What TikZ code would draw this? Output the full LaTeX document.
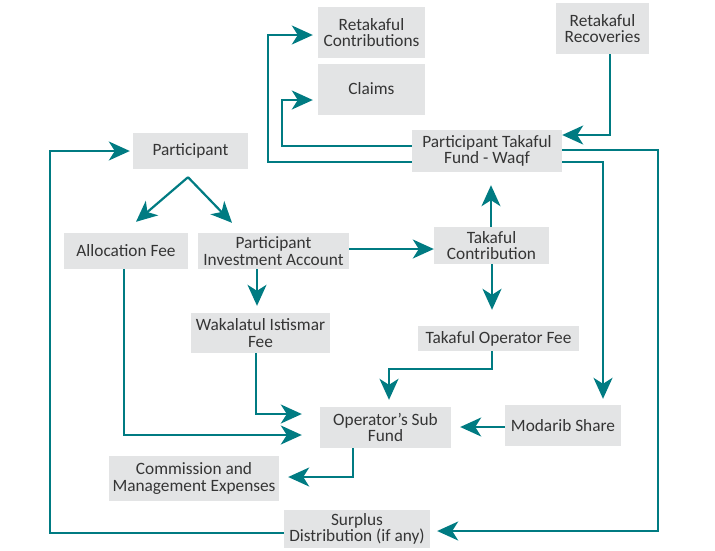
\documentclass[tikz,border=0pt]{standalone}
\usepackage{fontspec}
\setmainfont{Carlito}
\usetikzlibrary{arrows.meta,calc}
\definecolor{tealline}{HTML}{007B82}
\definecolor{boxgray}{HTML}{E3E4E5}
\definecolor{txtgray}{HTML}{353535}
\begin{document}
\begin{tikzpicture}[x=1pt,y=-1pt,
  box/.style={fill=boxgray, text=txtgray, align=center, inner sep=0pt,
              font=\fontsize{17.3}{16.5}\selectfont},
  flow/.style={draw=tealline, line width=2.2pt, line join=miter,
              -{Stealth[length=21pt,width=19pt,inset=6pt]}}]
\useasboundingbox (0,0) rectangle (715,550);

% boxes
\node[box, minimum width=107pt, minimum height=51pt] (rc)  at (371.5,32.5) {Retakaful\\Contributions};
\node[box, minimum width=107pt, minimum height=51pt] (cl)  at (371.5,89) {Claims};
\node[box, minimum width=93pt,  minimum height=51pt] (rr)  at (602.5,28.5) {Retakaful\\Recoveries};
\node[box, minimum width=150pt, minimum height=42pt] (ptf) at (487,151) {Participant Takaful\\Fund - Waqf};
\node[box, minimum width=115pt, minimum height=36pt] (par) at (190.5,151) {Participant};
\node[box, minimum width=124pt, minimum height=36pt] (af)  at (126,251) {Allocation Fee};
\node[box, minimum width=151pt, minimum height=36pt] (pia) at (273.5,251) {Participant\\Investment Account};
\node[box, minimum width=115pt, minimum height=37pt] (tc)  at (491.5,245.5) {Takaful\\Contribution};
\node[box, minimum width=161pt, minimum height=25pt] (tof) at (498.5,338.5) {Takaful Operator Fee};
\node[box, minimum width=139pt, minimum height=40pt] (wak) at (260.5,333) {Wakalatul Istismar\\Fee};
\node[box, minimum width=131pt, minimum height=41pt] (osf) at (385.5,427.5) {Operator’s Sub\\Fund};
\node[box, minimum width=170pt, minimum height=45pt] (com) at (194,478.5) {Commission and\\Management Expenses};
\node[box, minimum width=146pt, minimum height=38pt] (sd)  at (357,529) {Surplus\\Distribution (if any)};
\node[box, minimum width=116pt, minimum height=41pt] (ms)  at (563,425.5) {Modarib Share};

\coordinate (split) at ($(par.south)+(-2.5,8)$);
\coordinate (afin)  at ($(af.north)+(10,-11)$);
\coordinate (piain) at ($(pia.north)+(-41.5,-10)$);

% connectors
\draw[flow, shorten >=5pt] (ptf.west |- 0,162) -| (268,35) -- (rc.west |- 0,35);
\draw[flow, shorten >=5pt] (ptf.west |- 0,146) -| (282,100) -- (cl.west |- 0,100);
\draw[flow] (610,0 |- rr.south) |- (ptf.east |- 0,135);
\draw[flow, shorten >=7pt] (ptf.east |- 0,150) -| (658,531) -- (sd.east |- 0,531);
\draw[flow, shorten >=6pt] (ptf.east |- 0,162) -| (603,0 |- ms.north);
\draw[flow, shorten >=3pt] (sd.west |- 0,533) -| (50,151) -- (par.west);
\draw[flow] (split) -- (afin);
\draw[flow] (split) -- (piain);
\draw[flow] (pia.east |- 0,249) -- (tc.west |- 0,249);
\draw[flow, shorten >=7pt] (257,0 |- pia.south) -- (257,0 |- wak.north);
\draw[flow, shorten >=13pt] (491,0 |- tc.north) -- (491,0 |- ptf.south);
\draw[flow, shorten >=16pt] (492,0 |- tc.south) -- (492,0 |- tof.north);
\draw[flow, shorten >=7pt] (492,0 |- tof.south) |- (389,369) -- (389,0 |- osf.north);
\draw[flow, shorten >=18pt] (256,0 |- wak.south) |- (osf.west |- 0,414);
\draw[flow, shorten >=18pt] (124,0 |- af.south) |- (osf.west |- 0,435);
\draw[flow, shorten >=9pt] (ms.west |- 0,427) -- (osf.east |- 0,427);
\draw[flow, shorten >=9pt] (353,0 |- osf.south) |- (com.east |- 0,477);
\end{tikzpicture}
\end{document}
